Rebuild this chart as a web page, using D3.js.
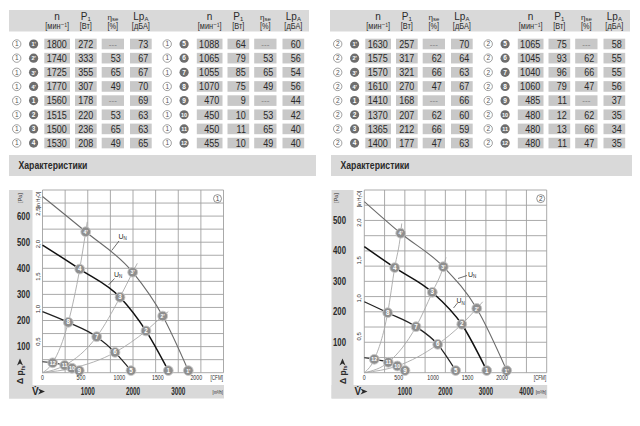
<!DOCTYPE html>
<html><head><meta charset="utf-8">
<script src="https://cdn.jsdelivr.net/npm/d3@7"></script>
<style>
body{margin:0;background:#fff;}
svg{display:block;}
text{font-family:"Liberation Sans",Arial,"DejaVu Sans",sans-serif;}
</style></head><body>
<svg id="c" width="640" height="426"></svg>
<script>
// ---------------- DATA ----------------
const pointLabels = ["1'","2'","3'","4'","1","2","3","4","5","6","7","8","9","10","11","12"];

const t1N   = [1800,1740,1725,1770,1560,1515,1500,1530,1088,1065,1055,1070,470,450,450,455];
const t1P   = [272,333,355,307,178,220,236,208,64,79,85,75,9,10,11,10];
const t1Eta = ["---",53,65,49,"---",53,65,49,"---",53,65,49,"---",53,65,49];
const t1Lp  = [73,67,67,70,69,63,63,65,60,56,54,56,44,42,40,40];

const t2N   = [1630,1575,1570,1610,1410,1370,1365,1400,1065,1045,1040,1060,485,480,480,480];
const t2P   = [257,317,321,270,168,207,212,177,75,93,96,79,11,12,13,11];
const t2Eta = ["---",62,66,47,"---",62,66,47,"---",62,66,47,"---",62,66,47];
const t2Lp  = [70,64,63,67,66,60,59,63,58,55,55,56,37,35,34,35];

const headTop = ["n","P","η","Lp"];
const headSub = ["","1","se","A"];
const headUnit = ["[мин⁻¹]","[Вт]","[%]","[дБА]"];

// chart 1 : fan curves [m³/h, Pa]
const c1CurveA = [[0,675],[955,540],[1993,385],[2656,217],[3222,8]];   // 4',3',2',1'
const c1CurveB = [[0,489],[822,397],[1713,289],[2287,160],[2780,8]];   // 4,3,2,1
const c1CurveC = [[0,234],[570,193],[1198,138],[1602,78],[1956,8]];    // 8,7,6,5
const c1CurveD = [[0,42],[225,38],[490,28],[652,17],[813,8]];          // 12,11,10,9
const c1Sys4 = [[0,0],[225,38],[570,193],[822,397],[955,540],[989,578]];
const c1Sys3 = [[0,0],[490,28],[1198,138],[1713,289],[1993,385],[2095,419]];
const c1Sys2 = [[0,0],[652,17],[1602,78],[2287,160],[2656,217],[2780,234]];

// chart 2
const c2CurveA = [[0,562],[898,458],[1950,348],[2774,211],[3514,7]];
const c2CurveB = [[0,414],[750,345],[1678,264],[2404,159],[3021,7]];
const c2CurveC = [[0,233],[577,197],[1276,151],[1811,93],[2255,7]];
const c2CurveD = [[0,49],[247,44],[592,34],[814,22],[1004,7]];
const c2Sys4 = [[0,0],[247,44],[577,197],[750,345],[898,458],[923,490]];
const c2Sys3 = [[0,0],[592,34],[1276,151],[1678,264],[1950,348],[2016,379]];
const c2Sys2 = [[0,0],[814,22],[1811,93],[2404,159],[2774,211],[2922,233]];

const curveLabelsA = ["4'","3'","2'","1'"];
const curveLabelsB = ["4","3","2","1"];
const curveLabelsC = ["8","7","6","5"];
const curveLabelsD = ["12","11","10","9"];

const c1PaTicks = [100,200,300,400,500,600];
const c1InTicks = [0.5,1.0,1.5,2.0,2.5];
const c1CfmTicks = [0,500,1000,1500,2000];
const c1M3Ticks = [1000,2000,3000];
const c2PaTicks = [100,200,300,400,500];
const c2InTicks = [0.5,1.0,1.5,2.0];
const c2CfmTicks = [0,500,1000,1500,2000];
const c2M3Ticks = [1000,2000,3000,4000];

// ---------------- DRAW ----------------
const svg = d3.select("#c");
const BAND = "#d9d9d9", BOX = "#c8c8c8", INK = "#2a2a2a";

function drawTable(ox, tag, N, P, E, L) {
  const g = svg.append("g").attr("transform", `translate(${ox},0)`);
  g.append("rect").attr("x", 9).attr("y", 10).attr("width", 300).attr("height", 21.5).attr("fill", BAND);
  const halfOff = [0, 152.5];
  const circOff = [0, 150.5];
  const colL = [44.3, 75, 101.7, 130];
  const colR = [70, 96.7, 124, 151.7];
  const rowY = d3.range(8).map(i => 44 + 14.15 * i);
  halfOff.forEach((hx, h) => {
    colL.forEach((l, c) => {
      const cx = hx + (l + colR[c]) / 2;
      const t = g.append("text").attr("x", cx).attr("y", 19.5).attr("text-anchor", "middle")
        .attr("font-size", c === 2 ? 8 : 10).attr("fill", INK).text(headTop[c]);
      if (headSub[c]) t.append("tspan").attr("font-size", 6).attr("dy", 1.5).text(headSub[c]);
      g.append("text").attr("x", cx).attr("y", 29).attr("text-anchor", "middle").attr("data-r", 0.82)
        .attr("font-size", 9).attr("fill", INK).text(headUnit[c]);
    });
    rowY.forEach((y, r) => {
      const idx = h * 8 + r;
      const co = circOff[h];
      g.append("circle").attr("cx", 16.7 + co).attr("cy", y).attr("r", 4.2)
        .attr("fill", "#fff").attr("stroke", "#777").attr("stroke-width", 0.7);
      g.append("text").attr("x", 16.7 + co).attr("y", y + 2.3).attr("text-anchor", "middle")
        .attr("font-size", 6.5).attr("fill", "#555").text(tag);
      g.append("circle").attr("cx", 33.6 + co).attr("cy", y).attr("r", 4.6).attr("fill", "#6e6e6e");
      g.append("text").attr("x", 33.6 + co).attr("y", y + 2.2).attr("text-anchor", "middle")
        .attr("font-size", pointLabels[idx].length > 1 ? 5.5 : 6.5).attr("font-weight", "bold")
        .attr("fill", "#fff").text(pointLabels[idx]);
      const vals = [N[idx], P[idx], E[idx], L[idx]];
      vals.forEach((v, c) => {
        const l = hx + colL[c], rr = hx + colR[c];
        g.append("rect").attr("x", l).attr("y", y - 5.3).attr("width", rr - l).attr("height", 10.6).attr("fill", BOX);
        if (v === "---") {
          g.append("text").attr("x", (l + rr) / 2).attr("y", y + 2.5).attr("text-anchor", "middle")
            .attr("font-size", 8).attr("fill", "#777").text("---");
        } else {
          g.append("text").attr("x", rr - 3.3).attr("y", y + 3.8).attr("text-anchor", "end").attr("data-r", 0.86)
            .attr("font-size", 10.5).attr("fill", INK).text(v);
        }
      });
    });
  });
}

drawTable(0, "1", t1N, t1P, t1Eta, t1Lp);
drawTable(321, "2", t2N, t2P, t2Eta, t2Lp);

// title bands
[[9, 307], [331, 301]].forEach(([x, w]) => {
  svg.append("rect").attr("x", x).attr("y", 155).attr("width", w).attr("height", 21).attr("fill", BAND);
  svg.append("text").attr("x", x + 9.5).attr("y", 169.5).attr("font-size", 11.5).attr("font-weight", "bold")
    .attr("data-w", 69).attr("fill", INK).text("Характеристики");
});

function fmtIn(v) { return v.toFixed(1).replace(".", ","); }

function tri(g, x, y, dir) {
  const p = dir === "up" ? `M${x - 3},${y + 3}L${x},${y - 4}L${x + 3},${y + 3}L${x},${y + 1}Z`
                         : `M${x - 3},${y - 3}L${x + 4},${y}L${x - 3},${y + 3}L${x - 1},${y}Z`;
  g.append("path").attr("d", p).attr("fill", INK);
}

function drawChart(o) {
  const g = svg.append("g");
  const x = d3.scaleLinear().domain([0, o.qMax]).range([o.x0, o.x1]);
  const y = d3.scaleLinear().domain([0, o.paMax]).range([o.yB, o.yT]);
  const cfm = d3.scaleLinear().domain([0, o.qMax / 1.699]).range([o.x0, o.x1]);
  const inch = d3.scaleLinear().domain([0, o.paMax / 249.09]).range([o.yB, o.yT]);

  g.append("rect").attr("x", o.bandL).attr("y", o.yT).attr("width", o.bandR - o.bandL).attr("height", 398.5 - o.yT).attr("fill", BAND);
  g.append("rect").attr("x", o.bandL).attr("y", 385).attr("width", o.x1 - o.bandL + 0.5).attr("height", 13.5).attr("fill", BAND);

  const gx = d3.range(0, o.qMax + 1, 500), gy = d3.range(0, o.paMax + 1, 50);
  g.selectAll(null).data(gx).join("line").attr("x1", d => x(d)).attr("x2", d => x(d))
    .attr("y1", o.yT).attr("y2", o.yB).attr("stroke", "#a0a0a0").attr("stroke-width", 0.9);
  g.selectAll(null).data(gy).join("line").attr("y1", d => y(d)).attr("y2", d => y(d))
    .attr("x1", o.x0).attr("x2", o.x1).attr("stroke", "#a0a0a0").attr("stroke-width", 0.9);

  const line = d3.line().x(d => x(d[0])).y(d => y(d[1])).curve(d3.curveMonotoneX);

  o.sys.forEach(s => g.append("path").attr("d", line(s)).attr("fill", "none")
    .attr("stroke", "#a8a8a8").attr("stroke-width", 0.9));

  const styles = [["#6a6a6a", 1.1], ["#111", 1.5], ["#222", 1.3], ["#222", 1.2]];
  o.curves.forEach((c, i) => g.append("path").attr("d", line(c)).attr("fill", "none")
    .attr("stroke", styles[i][0]).attr("stroke-width", styles[i][1]));

  o.un.forEach(u => {
    g.append("line").attr("x1", u[0]).attr("y1", u[1]).attr("x2", u[2]).attr("y2", u[3])
      .attr("stroke", "#333").attr("stroke-width", 0.7);
    const t = g.append("text").attr("x", u[4]).attr("y", u[5]).attr("font-size", 7).attr("fill", INK).text("U");
    t.append("tspan").attr("font-size", 4.5).attr("dy", 1.5).text("N");
  });

  o.curves.forEach((c, i) => {
    c.slice(1).forEach((d, j) => {
      const cx = x(d[0]), cy = y(d[1]);
      g.append("circle").attr("cx", cx).attr("cy", cy).attr("r", 4.9).attr("fill", "#8f8f8f")
        .attr("stroke", "#c8c8c8").attr("stroke-width", 0.9);
      const lab = o.labels[i][j];
      g.append("text").attr("x", cx).attr("y", cy + 2.1).attr("text-anchor", "middle")
        .attr("font-size", lab.length > 1 ? 5.3 : 6.3).attr("font-weight", "bold").attr("fill", "#fff").text(lab);
    });
  });

  g.append("circle").attr("cx", o.x1 - 6).attr("cy", o.yT + 8.6).attr("r", 4).attr("fill", "#fff")
    .attr("stroke", "#666").attr("stroke-width", 0.7);
  g.append("text").attr("x", o.x1 - 6).attr("y", o.yT + 11).attr("text-anchor", "middle")
    .attr("font-size", 6.5).attr("fill", "#444").text(o.tag);

  g.selectAll(null).data(o.paTicks).join("text").attr("x", o.paX).attr("y", d => y(d) + 3.5)
    .attr("text-anchor", "middle").attr("font-size", 10).attr("font-weight", "bold").attr("data-r", 0.78)
    .attr("fill", INK).text(d => d);
  g.append("text").attr("transform", `translate(${o.paX - 2},${o.yT + 8}) rotate(-90)`)
    .attr("text-anchor", "middle").attr("font-size", 5.5).attr("fill", INK).text("[Pa]");
  g.selectAll(null).data(o.inTicks).join("text")
    .attr("transform", d => `translate(${o.x0 - 3},${inch(d) + 1.5}) rotate(-90)`)
    .attr("text-anchor", "middle").attr("font-size", 6).attr("fill", INK).text(d => fmtIn(d));
  g.append("text").attr("transform", `translate(${o.x0 - 3},${o.inUnitY}) rotate(-90)`)
    .attr("text-anchor", "middle").attr("font-size", 5.5).attr("data-r", 0.85).attr("fill", INK).text("[in H₂O]");

  g.selectAll(null).data(o.cfmTicks).join("text").attr("x", d => cfm(d)).attr("y", 380.5)
    .attr("text-anchor", "middle").attr("font-size", 7).attr("data-r", 0.75).attr("fill", INK).text(d => d);
  g.append("text").attr("x", o.x1 - 0.5).attr("y", 380.5).attr("text-anchor", "end")
    .attr("font-size", 7).attr("data-w", 12.5).attr("fill", INK).text("[CFM]");
  g.selectAll(null).data(o.m3Ticks).join("text").attr("x", d => x(d)).attr("y", 395)
    .attr("text-anchor", "middle").attr("font-size", 10).attr("font-weight", "bold").attr("data-r", 0.64)
    .attr("fill", INK).text(d => d);
  g.append("text").attr("x", o.x1 - 0.5).attr("y", 394).attr("text-anchor", "end")
    .attr("font-size", 6).attr("data-w", 10.5).attr("fill", INK).text("[m³/h]");
  g.append("text").attr("x", o.bandL + 23).attr("y", 395).attr("font-size", 10).attr("font-weight", "bold")
    .attr("fill", INK).text("V\u0307");
  tri(g, o.bandL + 32, 391.5, "right");
  const dp = g.append("text").attr("transform", `translate(${o.bandL + 14},384) rotate(-90)`)
    .attr("font-size", 8.5).attr("font-weight", "bold").attr("fill", INK).text("Δ p");
  dp.append("tspan").attr("font-size", 5.5).attr("dy", 1.5).text("fs");
  tri(g, o.bandL + 11, 362.5, "up");
}

drawChart({
  x0: 42.5, x1: 223.5, yT: 190, yB: 372.7, qMax: 4000, paMax: 700, bandL: 9, bandR: 32.5,
  paX: 23.5, inUnitY: 200, tag: "1",
  curves: [c1CurveA, c1CurveB, c1CurveC, c1CurveD],
  labels: [curveLabelsA, curveLabelsB, curveLabelsC, curveLabelsD],
  sys: [c1Sys4, c1Sys3, c1Sys2],
  un: [[111.7, 250.5, 119, 241, 118.5, 238.5], [108.5, 285, 114.5, 278.5, 114, 276.5]],
  paTicks: c1PaTicks, inTicks: c1InTicks, cfmTicks: c1CfmTicks, m3Ticks: c1M3Ticks
});
drawChart({
  x0: 364.3, x1: 546.7, yT: 190, yB: 372.7, qMax: 4500, paMax: 600, bandL: 331.5, bandR: 353.5,
  paX: 339.5, inUnitY: 199, tag: "2",
  curves: [c2CurveA, c2CurveB, c2CurveC, c2CurveD],
  labels: [curveLabelsA, curveLabelsB, curveLabelsC, curveLabelsD],
  sys: [c2Sys4, c2Sys3, c2Sys2],
  un: [[458, 278.5, 467, 275.5, 468, 276.5], [453.5, 308, 457.5, 303, 456.5, 303]],
  paTicks: c2PaTicks, inTicks: c2InTicks, cfmTicks: c2CfmTicks, m3Ticks: c2M3Ticks
});

// condense texts horizontally with a transform (reference uses a condensed typeface)
svg.selectAll("text").each(function () {
  const r = this.getAttribute("data-r"), w = this.getAttribute("data-w");
  if (!r && !w) return;
  const L = this.getComputedTextLength();
  const k = w ? (+w) / L : +r;
  const tr = this.getAttribute("transform");
  if (tr) {
    this.setAttribute("transform", tr + ` scale(${k},1)`);
  } else {
    const ax = +this.getAttribute("x");
    this.setAttribute("transform", `translate(${ax},0) scale(${k},1) translate(${-ax},0)`);
  }
});
</script>
</body></html>
